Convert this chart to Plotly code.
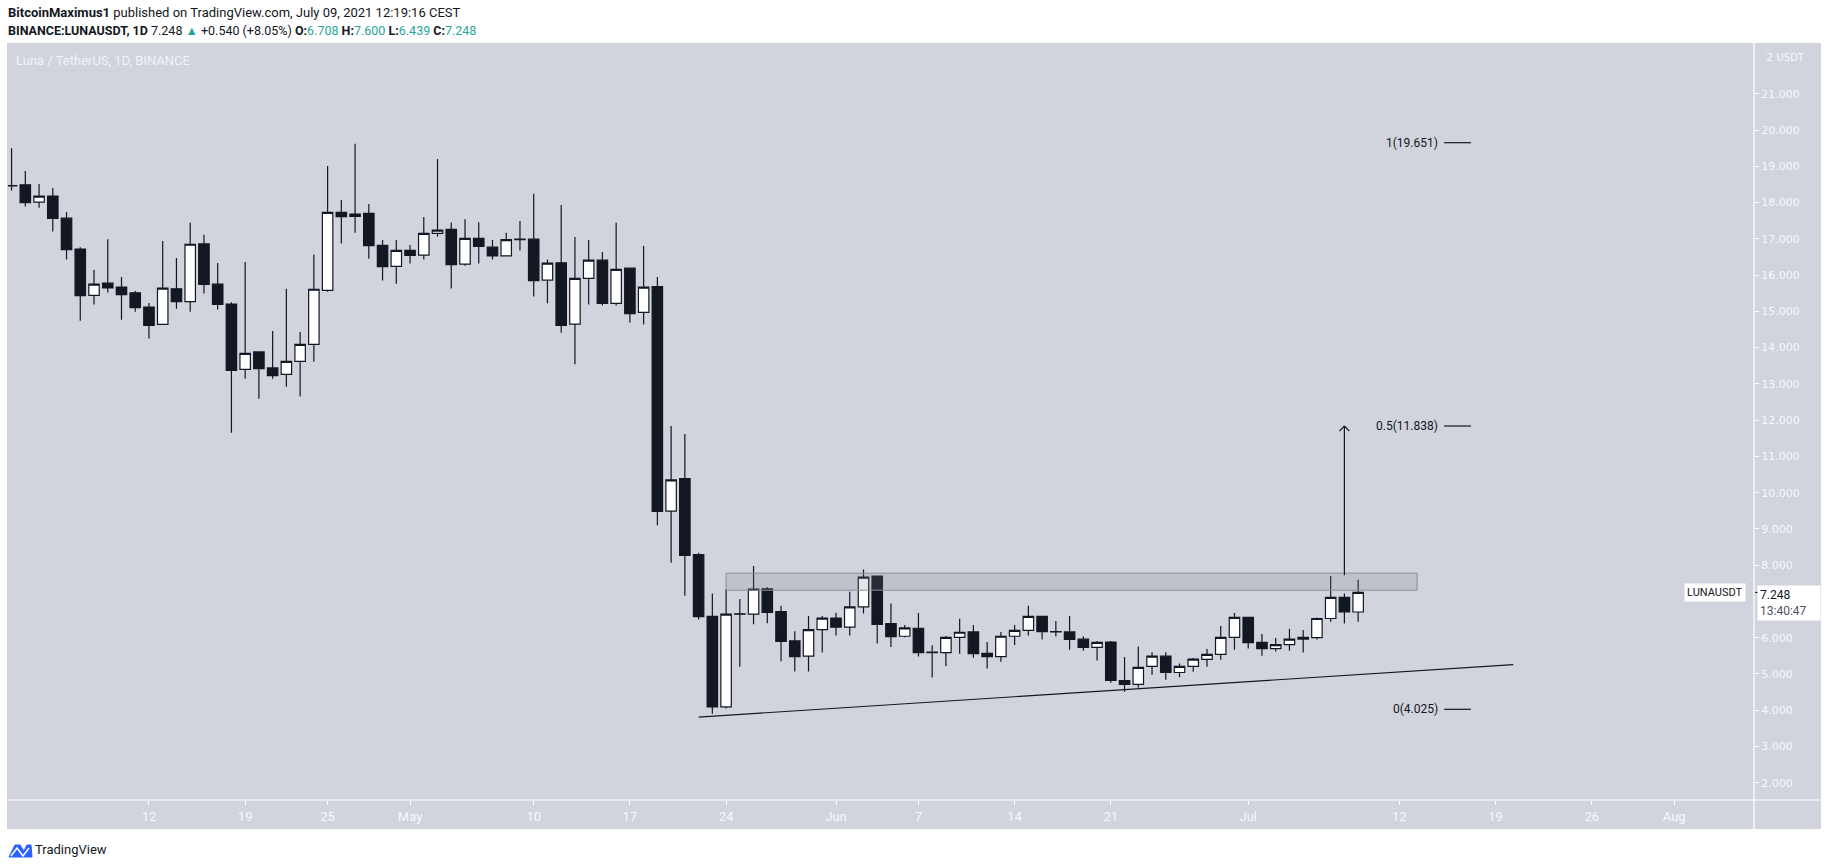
import plotly.graph_objects as go
import pandas as pd

# ---------------- data ----------------
start_date = "2021-04-02"
opens = [18.47, 18.49, 18.01, 18.18, 17.57, 16.72, 15.44, 15.78, 15.67, 15.51,
         15.12, 14.64, 15.62, 15.27, 16.86, 15.75, 15.20, 13.40, 13.88, 13.44,
         13.26, 13.62, 14.09, 15.58, 17.73, 17.62, 17.70, 16.82, 16.24, 16.68,
         16.55, 17.15, 17.26, 16.30, 17.01, 16.77, 16.53, 16.98, 16.99, 15.86,
         16.34, 14.65, 15.91, 16.41, 15.22, 16.19, 14.97, 15.68, 9.49, 10.39,
         8.29, 6.59, 4.09, 6.66, 6.65, 7.35, 6.72, 5.91, 5.49, 6.22,
         6.54, 6.29, 6.85, 7.70, 6.39, 6.04, 6.26, 5.60, 5.59, 6.01,
         6.16, 5.57, 5.48, 6.04, 6.20, 6.59, 6.17, 6.16, 5.96, 5.735,
         5.88, 4.82, 4.71, 5.21, 5.49, 5.04, 5.21, 5.40, 5.54, 6.01,
         6.56, 5.87, 5.70, 5.81, 5.96, 6.00, 6.53, 7.11, 6.708]
highs = [19.50, 18.87, 18.51, 18.40, 17.74, 16.77, 16.14, 16.99, 15.95, 15.56,
         15.23, 16.94, 16.47, 17.44, 17.11, 16.33, 15.25, 16.36, 13.90, 14.46,
         15.62, 14.43, 16.57, 19.01, 18.07, 19.62, 17.96, 16.97, 16.97, 16.83,
         17.60, 19.20, 17.45, 17.54, 17.46, 16.97, 17.17, 17.49, 18.24, 16.43,
         17.93, 17.05, 16.97, 16.64, 17.44, 16.19, 16.80, 15.95, 11.84, 11.62,
         8.34, 7.22, 7.34, 7.07, 7.98, 7.39, 6.88, 6.18, 6.60, 6.60,
         6.69, 7.27, 7.88, 7.70, 6.94, 6.35, 6.68, 5.79, 6.05, 6.52,
         6.35, 5.88, 6.16, 6.35, 6.88, 6.59, 6.46, 6.60, 6.04, 5.91,
         5.91, 5.47, 5.76, 5.60, 5.60, 5.29, 5.44, 5.69, 6.32, 6.68,
         6.56, 6.10, 5.99, 6.24, 6.21, 6.56, 7.70, 7.22, 7.600]
lows = [18.33, 17.89, 17.86, 17.20, 16.43, 14.74, 15.19, 15.52, 14.77, 14.99,
        14.25, 14.64, 15.07, 14.99, 15.49, 15.05, 11.65, 13.14, 12.59, 13.14,
        12.92, 12.65, 13.61, 15.54, 16.87, 17.17, 16.45, 15.85, 15.76, 16.32,
        16.43, 17.06, 15.63, 16.26, 16.32, 16.43, 16.51, 16.68, 15.41, 15.22,
        14.41, 13.54, 15.19, 15.16, 15.16, 14.69, 14.64, 9.10, 8.07, 7.16,
        6.50, 3.90, 4.05, 5.20, 6.37, 6.40, 5.35, 5.07, 5.07, 5.59,
        6.06, 6.06, 6.67, 5.84, 5.74, 6.01, 5.48, 4.90, 5.22, 5.56,
        5.45, 5.15, 5.34, 5.80, 6.06, 5.95, 6.03, 5.67, 5.64, 5.37,
        4.76, 4.51, 4.62, 4.98, 4.84, 4.91, 5.06, 5.20, 5.39, 5.67,
        5.70, 5.50, 5.62, 5.64, 5.59, 5.95, 6.44, 6.39, 6.439]
closes = [18.46, 18.00, 18.18, 17.56, 16.70, 15.43, 15.75, 15.65, 15.46, 15.10,
          14.61, 15.64, 15.27, 16.85, 15.74, 15.19, 13.37, 13.84, 13.42, 13.23,
          13.62, 14.09, 15.61, 17.73, 17.61, 17.68, 16.81, 16.23, 16.68, 16.54,
          17.15, 17.24, 16.29, 17.01, 16.79, 16.53, 16.98, 16.99, 15.85, 16.33,
          14.61, 15.91, 16.41, 15.22, 16.16, 14.94, 15.67, 9.48, 10.35, 8.27,
          6.58, 4.09, 6.65, 6.65, 7.34, 6.70, 5.90, 5.48, 6.22, 6.54,
          6.29, 6.85, 7.67, 6.37, 6.03, 6.27, 5.59, 5.59, 6.01, 6.15,
          5.56, 5.48, 6.04, 6.20, 6.59, 6.17, 6.16, 5.95, 5.73, 5.87,
          4.82, 4.71, 5.18, 5.49, 5.04, 5.21, 5.41, 5.54, 6.01, 6.56,
          5.86, 5.70, 5.81, 5.96, 6.01, 6.53, 7.11, 6.708, 7.248]

x_tick_vals = ["2021-04-12", "2021-04-19", "2021-04-25", "2021-05-01", "2021-05-10",
               "2021-05-17", "2021-05-24", "2021-06-01", "2021-06-07", "2021-06-14",
               "2021-06-21", "2021-07-01", "2021-07-12", "2021-07-19", "2021-07-26",
               "2021-08-01"]
x_tick_text = ["12", "19", "25", "May", "10", "17", "24", "Jun", "7", "14", "21",
               "Jul", "12", "19", "26", "Aug"]
# the 7.000 label is hidden behind the last-price tag in the reference
y_tick_vals = [2, 3, 4, 5, 6, 8, 9, 10, 11, 12, 13, 14, 15, 16, 17, 18, 19, 20, 21]
y_tick_text = [f"{v}.000" for v in y_tick_vals]

fib_ratios = ["0", "0.5", "1"]
fib_prices = [4.025, 11.838, 19.651]
box_low, box_high = 7.31, 7.78
box_start, box_end = "2021-05-24", "2021-07-13 07:00"
trend_x = ["2021-05-22", "2021-07-20 07:00"]
trend_y = [3.81, 5.26]
arrow_date = "2021-07-08"
arrow_from, arrow_to = 7.72, 11.838
last_price = 7.248

# ---------------- geometry helpers ----------------
W, H = 1828, 867
PL, PR, PT, PB = 8, 1754, 44, 800


def px(x):
    return (x - PL) / (PR - PL)


def py(y):
    return (PB - y) / (PB - PT)


BG = "#d1d4dc"
DARK = "#131722"
TEAL = "#26a69a"
AXC = "#f7f8fa"

dates = pd.date_range(start_date, periods=len(opens), freq="D")

fig = go.Figure()
fig.add_trace(go.Candlestick(
    x=dates, open=opens, high=highs, low=lows, close=closes,
    increasing=dict(fillcolor="#ffffff", line=dict(color=DARK, width=1.2)),
    decreasing=dict(fillcolor=DARK, line=dict(color=DARK, width=1.2)),
    whiskerwidth=0, hoverinfo="skip", showlegend=False,
))

shapes = []
# grey panel incl. axes area
shapes.append(dict(type="rect", xref="paper", yref="paper", x0=px(7), x1=px(1821),
                   y0=py(829), y1=py(43), fillcolor=BG, line=dict(width=0), layer="below"))
# axis lines
shapes.append(dict(type="line", xref="paper", yref="paper", x0=1, x1=1,
                   y0=py(829), y1=py(43), line=dict(color="#ffffff", width=1.2)))
shapes.append(dict(type="line", xref="paper", yref="paper", x0=px(7), x1=px(1821),
                   y0=0, y1=0, line=dict(color="#ffffff", width=1.2)))
# resistance box
shapes.append(dict(type="rect", xref="x", yref="y", x0=box_start, x1=box_end,
                   y0=box_low, y1=box_high, fillcolor="rgba(120,123,134,0.2)",
                   line=dict(color="#8b8e96", width=1), layer="above"))
# trend line
shapes.append(dict(type="line", xref="x", yref="y", x0=trend_x[0], x1=trend_x[1],
                   y0=trend_y[0], y1=trend_y[1], line=dict(color=DARK, width=1.2)))
# arrow
shapes.append(dict(type="line", xref="x", yref="y", x0=arrow_date, x1=arrow_date,
                   y0=arrow_from, y1=arrow_to, line=dict(color=DARK, width=1.2)))
ad = pd.Timestamp(arrow_date)
dh = pd.Timedelta(hours=8.7)
for sgn in (-1, 1):
    shapes.append(dict(type="line", xref="x", yref="y", x0=ad + sgn * dh, x1=ad,
                       y0=arrow_to - 0.14, y1=arrow_to, line=dict(color=DARK, width=1.2)))
# fib lines
fib_x0 = pd.Timestamp("2021-07-15 06:14")
fib_x1 = pd.Timestamp("2021-07-17 05:00")
for p in fib_prices:
    shapes.append(dict(type="line", xref="x", yref="y", x0=fib_x0, x1=fib_x1,
                       y0=p, y1=p, line=dict(color=DARK, width=1.2)))
# last price tick
shapes.append(dict(type="line", xref="paper", yref="y", x0=px(1755), x1=px(1759),
                   y0=last_price, y1=last_price, line=dict(color=DARK, width=1)))

annotations = []
for r, p in zip(fib_ratios, fib_prices):
    annotations.append(dict(x=pd.Timestamp("2021-07-14 23:00"), y=p, xref="x", yref="y",
                            text=f"{r}({p:.3f})", showarrow=False, xanchor="right",
                            yanchor="middle", font=dict(family="Roboto", size=12, color=DARK)))

hdr_font = dict(family="Roboto", size=13, color=DARK)
annotations.append(dict(x=px(6), y=py(12.7), xref="paper", yref="paper", xanchor="left",
                        yanchor="middle", showarrow=False, font=hdr_font,
                        text="<b>BitcoinMaximus1</b> published on TradingView.com, July 09, 2021 12:19:16 CEST"))
annotations.append(dict(x=px(6), y=py(30.5), xref="paper", yref="paper", xanchor="left",
                        yanchor="middle", showarrow=False,
                        font=dict(family="Roboto", size=12.5, color=DARK),
                        text=("<b>BINANCE:LUNAUSDT, 1D</b> 7.248 "
                              f"<span style='color:{TEAL}'>▲</span> +0.540 (+8.05%) "
                              f"<b>O:</b><span style='color:{TEAL}'>6.708</span> "
                              f"<b>H:</b><span style='color:{TEAL}'>7.600</span> "
                              f"<b>L:</b><span style='color:{TEAL}'>6.439</span> "
                              f"<b>C:</b><span style='color:{TEAL}'>7.248</span>")))
annotations.append(dict(x=px(14), y=py(61), xref="paper", yref="paper", xanchor="left",
                        yanchor="middle", showarrow=False,
                        font=dict(family="Roboto", size=13, color="#f0f3fa"),
                        text="Luna / TetherUS, 1D, BINANCE"))
# 22 tick label covered by currency
annotations.append(dict(x=px(1764), y=22, xref="paper", yref="y", xanchor="left",
                        yanchor="middle", showarrow=False,
                        font=dict(family="DejaVu Sans", size=11, color=AXC),
                        text="2 <span style='font-size:10px'>USDT</span>"))
# symbol label and price tag
annotations.append(dict(x=px(1746), y=last_price, xref="paper", yref="y", xanchor="right",
                        yanchor="middle", showarrow=False, bgcolor="#ffffff",
                        borderpad=2, font=dict(family="Roboto", size=11, color=DARK),
                        text="LUNAUSDT"))
annotations.append(dict(x=px(1757), y=py(585), xref="paper", yref="paper", xanchor="left",
                        yanchor="top", showarrow=False, bgcolor="#ffffff", align="left",
                        width=58, borderpad=2,
                        font=dict(family="Roboto", size=12, color=DARK),
                        text="7.248<br><span style='color:#50535e'>13:40:47</span>"))
# TradingView logo text
annotations.append(dict(x=px(33), y=py(850), xref="paper", yref="paper", xanchor="left",
                        yanchor="middle", showarrow=False,
                        font=dict(family="Liberation Sans Narrow, Roboto", size=13, color=DARK),
                        text="TradingView"))

# logo icon (approximate)
def pp(x, y):
    return f"{px(x):.5f},{py(y):.5f}"

logo = ("M " + pp(9, 857) + " L " + pp(15, 845) + " L " + pp(20, 845) + " L " + pp(24, 851)
        + " L " + pp(27, 845) + " L " + pp(31, 845) + " L " + pp(32, 857) + " Z")
shapes.append(dict(type="path", xref="paper", yref="paper", path=logo,
                   fillcolor="#2962ff", line=dict(color="#2962ff", width=1)))
wave = ("M " + pp(11, 856) + " L " + pp(17, 848) + " L " + pp(23, 856) + " L " + pp(29, 848))
shapes.append(dict(type="path", xref="paper", yref="paper", path=wave,
                   line=dict(color="#ffffff", width=1.5)))

fig.update_layout(
    width=W, height=H,
    margin=dict(l=PL, r=W - PR, t=PT, b=H - PB, pad=0),
    paper_bgcolor="#ffffff", plot_bgcolor=BG,
    shapes=shapes, annotations=annotations,
    boxgap=0.24, boxgroupgap=0,
    showlegend=False,
    xaxis=dict(type="date", range=["2021-04-01 17:46", "2021-08-06 19:26"],
               rangeslider=dict(visible=False), showgrid=False, zeroline=False,
               tickvals=x_tick_vals, ticktext=x_tick_text, ticks="outside",
               ticklen=4, tickcolor="#ffffff", showline=False,
               tickfont=dict(family="Liberation Sans Narrow, Roboto", size=13, color=AXC)),
    yaxis=dict(side="right", range=[1.524, 22.373], showgrid=False, zeroline=False,
               tickvals=y_tick_vals, ticktext=y_tick_text, ticks="outside",
               ticklen=4, tickcolor="#ffffff", showline=False,
               tickfont=dict(family="DejaVu Sans", size=11, color=AXC)),
)

fig.write_html("out.html", config={"displayModeBar": False},
               post_script="document.body.style.margin='0';document.body.style.overflow='hidden';")
